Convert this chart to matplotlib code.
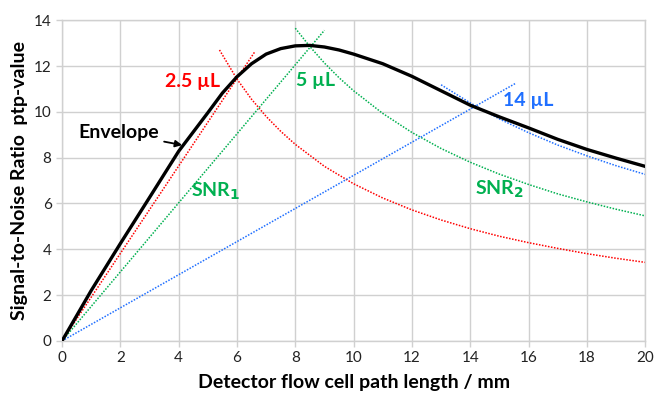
import matplotlib
matplotlib.use('Agg')
import matplotlib.pyplot as plt

plt.rcParams['font.family'] = ['Lato', 'DejaVu Sans']

# envelope (black curve)
env_x = [0, 1, 2, 3, 4, 5, 5.5, 6, 6.5, 7, 7.5, 8, 8.5, 9, 9.5, 10, 11, 12, 13, 14, 15, 16, 17, 18, 19, 20]
env_y = [0, 2.2, 4.25, 6.26, 8.28, 9.96, 10.82, 11.53, 12.1, 12.52, 12.76, 12.88, 12.9, 12.83, 12.7,
         12.52, 12.1, 11.55, 10.92, 10.29, 9.78, 9.3, 8.8, 8.36, 7.98, 7.62]

# SNR1 rising lines (start, end)
red_up_x = [0, 6.6]
red_up_y = [0, 12.6]
green_up_x = [0, 9.0]
green_up_y = [0, 13.56]
blue_up_x = [0, 15.55]
blue_up_y = [0, 11.24]

# SNR2 falling curves
red_dn_x = [5.4, 6, 6.5, 7, 7.5, 8, 9, 10, 11, 12, 13, 14, 15, 16, 17, 18, 19, 20]
red_dn_y = [12.7, 11.43, 10.55, 9.8, 9.15, 8.58, 7.62, 6.86, 6.24, 5.72, 5.28, 4.9, 4.57, 4.29, 4.04, 3.81, 3.61, 3.43]
green_dn_x = [8, 8.5, 9, 9.5, 10, 11, 12, 13, 14, 15, 16, 17, 18, 19, 20]
green_dn_y = [13.65, 12.85, 12.13, 11.49, 10.92, 9.93, 9.1, 8.4, 7.8, 7.28, 6.83, 6.42, 6.07, 5.75, 5.46]
blue_dn_x = [13, 14, 15, 16, 17, 18, 19, 20]
blue_dn_y = [11.18, 10.39, 9.69, 9.09, 8.55, 8.08, 7.65, 7.27]

RED = '#FF0000'
GREEN = '#00B050'
BLUE = '#1F6FFF'

fig = plt.figure(figsize=(6.55, 3.96), dpi=100)
ax = fig.add_axes([0.0947, 0.139, 0.8903, 0.810])

dot = dict(linestyle=(0, (1, 1)), linewidth=1.1)
ax.plot(red_up_x, red_up_y, color=RED, **dot)
ax.plot(red_dn_x, red_dn_y, color=RED, **dot)
ax.plot(green_up_x, green_up_y, color=GREEN, **dot)
ax.plot(green_dn_x, green_dn_y, color=GREEN, **dot)
ax.plot(blue_up_x, blue_up_y, color=BLUE, **dot)
ax.plot(blue_dn_x, blue_dn_y, color=BLUE, **dot)
ax.plot(env_x, env_y, color='black', linewidth=2.4, zorder=5)

ax.set_xlim(0, 20)
ax.set_ylim(0, 14)
ax.set_xticks(range(0, 21, 2))
ax.set_yticks(range(0, 15, 2))
ax.grid(True, color='#D0D0D0', linewidth=1.0)
ax.set_axisbelow(True)
for s in ax.spines.values():
    s.set_color('#D0D0D0')
    s.set_linewidth(1.0)
ax.tick_params(colors='#D0D0D0', labelcolor='#222222', labelsize=11, length=4, width=1.0)

ax.set_xlabel('Detector flow cell path length / mm', fontsize=14, fontweight='bold', labelpad=6)
ax.set_ylabel('Signal-to-Noise Ratio  ptp-value', fontsize=14, fontweight='bold', labelpad=4)

tk = dict(fontsize=14, fontweight='bold', ha='center', va='center')
ax.text(4.49, 11.34, '2.5 µL', color=RED, **tk)
ax.text(8.68, 11.38, '5 µL', color=GREEN, **tk)
ax.text(16.0, 10.51, '14 µL', color=BLUE, **tk)
ax.text(5.25, 6.54, 'SNR$_\\mathbf{1}$', color=GREEN, **tk)
ax.text(15.0, 6.6, 'SNR$_\\mathbf{2}$', color=GREEN, **tk)
ax.annotate('Envelope', xy=(4.12, 8.55), xytext=(1.93, 9.08), fontsize=14, fontweight='bold',
            ha='center', va='center',
            arrowprops=dict(arrowstyle='-|>', color='black', lw=1.3, shrinkA=2, shrinkB=0,
                            mutation_scale=10))

fig.savefig('out.png', dpi=100)
